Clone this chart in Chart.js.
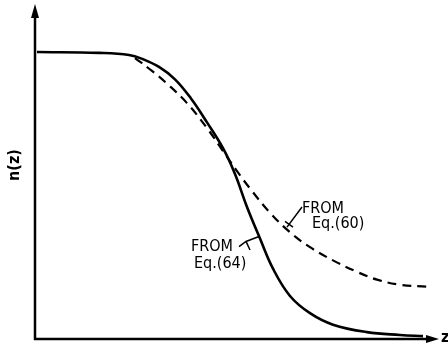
<!DOCTYPE html>
<html>
<head>
<meta charset="utf-8">
<script src="https://cdn.jsdelivr.net/npm/chart.js@4/dist/chart.umd.min.js"></script>
<style>
  html, body { margin: 0; padding: 0; background: #fff; }
  #grafico { display: block; }
</style>
</head>
<body>
<canvas id="grafico" width="448" height="351"></canvas>
<script>
// Valores (z en unidades arbitrarias 0-100, n(z) normalizado)
const zEq64 = [0.5, 16, 23.5, 27, 31, 35, 39, 43, 47, 50, 53, 56.25, 59.5, 63.75, 68.75, 74.5, 83, 91.25, 97];
const nEq64 = [1.0, 0.997, 0.99, 0.975, 0.948, 0.905, 0.838, 0.755, 0.665, 0.575, 0.46, 0.35, 0.245, 0.15, 0.09, 0.05, 0.024, 0.014, 0.010];

const zEq60 = [25, 29, 33, 38, 43, 47, 50.5, 54, 58.75, 63.75, 68.75, 74.5, 80.5, 85.5, 91.25, 98];
const nEq60 = [0.979, 0.937, 0.89, 0.822, 0.735, 0.655, 0.585, 0.52, 0.44, 0.372, 0.32, 0.274, 0.234, 0.207, 0.189, 0.182];

const ejeX = "z";
const ejeY = "n(z)";

const puntos = (xs, ys) => xs.map((x, i) => ({ x: x, y: ys[i] }));

// Dibuja ejes con flechas, etiquetas y anotaciones
const decoracion = {
  id: "decoracion",
  afterDatasetsDraw(chart) {
    const c = chart.ctx;
    const sx = chart.scales.x, sy = chart.scales.y;
    const x0 = sx.getPixelForValue(0), y0 = sy.getPixelForValue(0);
    const px = v => sx.getPixelForValue(v), py = v => sy.getPixelForValue(v);

    c.save();
    c.strokeStyle = "#000";
    c.fillStyle = "#000";
    c.lineWidth = 2.5;
    c.lineCap = "butt";

    // eje Y
    c.beginPath();
    c.moveTo(x0, y0 + 1);
    c.lineTo(x0, 14);
    c.stroke();
    c.beginPath();
    c.moveTo(x0, 4);
    c.lineTo(x0 - 4, 18);
    c.lineTo(x0 + 4, 18);
    c.closePath();
    c.fill();

    // eje X
    c.beginPath();
    c.moveTo(x0 - 1, y0);
    c.lineTo(430, y0);
    c.stroke();
    c.beginPath();
    c.moveTo(439, y0);
    c.lineTo(426, y0 - 4);
    c.lineTo(426, y0 + 4);
    c.closePath();
    c.fill();

    c.font = "bold 16px 'DejaVu Sans Condensed', 'DejaVu Sans', sans-serif";
    c.textBaseline = "middle";
    c.textAlign = "left";
    c.fillText(ejeX, 441, y0 - 1);

    c.save();
    c.translate(15, 165);
    c.rotate(-Math.PI / 2);
    c.textAlign = "center";
    c.fillText(ejeY, 0, 0);
    c.restore();

    // anotaciones
    c.font = "16px 'DejaVu Sans Condensed', 'DejaVu Sans', sans-serif";
    c.fillText("FROM", px(66.75), py(0.455));
    c.fillText("Eq.(60)", px(69.25), py(0.40));
    c.fillText("FROM", px(39), py(0.32));
    c.fillText("Eq.(64)", px(39.75), py(0.262));

    c.lineWidth = 1.5;
    c.beginPath();
    c.moveTo(px(66.75), py(0.46));
    c.lineTo(px(63), py(0.39));
    c.moveTo(px(62.5), py(0.41));
    c.lineTo(px(64.5), py(0.39));
    c.stroke();

    c.beginPath();
    c.moveTo(px(51), py(0.322));
    c.lineTo(px(52.75), py(0.34));
    c.lineTo(px(56), py(0.357));
    c.moveTo(px(52.75), py(0.34));
    c.lineTo(px(53.75), py(0.31));
    c.stroke();
    c.restore();
  }
};

new Chart(document.getElementById("grafico").getContext("2d"), {
  type: "scatter",
  data: {
    datasets: [
      {
        label: "FROM Eq.(64)",
        data: puntos(zEq64, nEq64),
        showLine: true,
        borderColor: "#000",
        borderWidth: 2.6,
        pointRadius: 0,
        tension: 0.4
      },
      {
        label: "FROM Eq.(60)",
        data: puntos(zEq60, nEq60),
        showLine: true,
        borderColor: "#000",
        borderWidth: 2.2,
        borderDash: [9, 6],
        pointRadius: 0,
        tension: 0.4
      }
    ]
  },
  options: {
    responsive: false,
    animation: false,
    layout: { padding: { left: 35, right: 13, top: 9, bottom: 12 } },
    plugins: {
      legend: { display: false },
      tooltip: { enabled: false }
    },
    scales: {
      x: { type: "linear", min: 0, max: 100, display: false },
      y: { type: "linear", min: 0, max: 1.15, display: false }
    }
  },
  plugins: [decoracion]
});
</script>
</body>
</html>
